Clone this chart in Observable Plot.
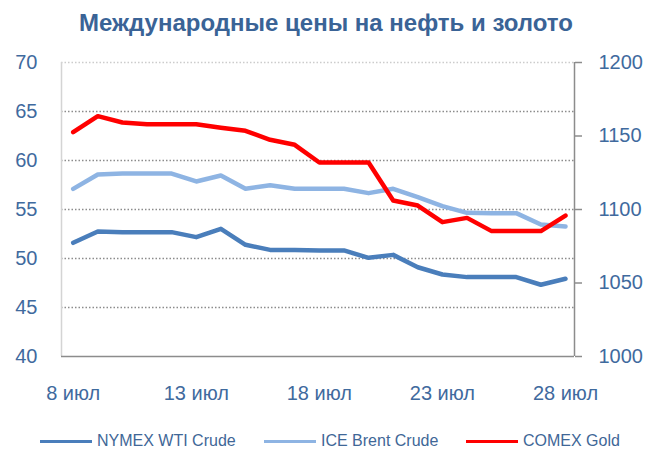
<!DOCTYPE html>
<html>
<head>
<meta charset="utf-8">
<script src="https://cdn.jsdelivr.net/npm/d3@7"></script>
<script src="https://cdn.jsdelivr.net/npm/@observablehq/plot@0.6"></script>
<style>
  html, body { margin: 0; padding: 0; background: #fff; }
  #wrap { position: relative; width: 648px; height: 451px; font-family: "Liberation Sans", Arial, sans-serif; }
  #title { position: absolute; left: 0; top: 11px; width: 652px; text-align: center;
           font-weight: bold; font-size: 24px; line-height: 24px; color: #3A6396; }
  #chart { position: absolute; left: 0; top: 50px; }
  .lg { position: absolute; top: 431px; height: 20px; display: flex; align-items: center;
        font-size: 16px; color: #3F6797; white-space: nowrap; }
  .lg span.sw { display: inline-block; width: 52px; height: 3px; margin-right: 5px; }
</style>
</head>
<body>
<div id="wrap">
  <div id="title">Международные цены на нефть и золото</div>
  <div id="chart"></div>
  <div id="legend"></div>
</div>
<script>
const days = [8, 9, 10, 11, 12, 13, 14, 15, 16, 17, 18, 19, 20, 21, 22, 23, 24, 25, 26, 27, 28];
const wti = [51.6, 52.76, 52.69, 52.69, 52.69, 52.18, 53.03, 51.4, 50.88, 50.88, 50.82, 50.82, 50.07, 50.37, 49.11, 48.37, 48.1, 48.1, 48.1, 47.32, 47.93];
const brent = [57.11, 58.57, 58.67, 58.67, 58.67, 57.86, 58.47, 57.11, 57.48, 57.11, 57.11, 57.11, 56.67, 57.11, 56.26, 55.34, 54.66, 54.63, 54.63, 53.47, 53.27];
const gold = [1152.6, 1163.5, 1159.2, 1158, 1158, 1158, 1155.6, 1153.5, 1147.4, 1144, 1132, 1132, 1132, 1106.1, 1102.7, 1091.4, 1094.3, 1085.3, 1085.3, 1085.3, 1095.9];
const xTicks = [8, 13, 18, 23, 28];
const leftTicks = [40, 45, 50, 55, 60, 65, 70];
const rightTicks = [1000, 1050, 1100, 1150, 1200];
const seriesNames = ["NYMEX WTI Crude", "ICE Brent Crude", "COMEX Gold"];
const seriesColors = ["#4A7EBB", "#8EB4E3", "#FF0000"];

const leftDomain = [40, 70];
const rightDomain = [1000, 1200];
const toLeft = d3.scaleLinear(rightDomain, leftDomain);
const xDomain = [7.525, 28.366];
const labelColor = "#3F6A9E";

const plot = Plot.plot({
  width: 648,
  height: 372,
  marginTop: 12,
  marginBottom: 66,
  marginLeft: 61,
  marginRight: 74,
  style: { fontFamily: "'Liberation Sans', Arial, sans-serif", background: "white" },
  x: { domain: xDomain, axis: null },
  y: { domain: leftDomain, axis: null },
  marks: [
    Plot.ruleY([45, 50, 55, 60, 65], { stroke: "#8c8c8c", strokeWidth: 1.3, strokeDasharray: "1.5,2" }),
    Plot.ruleY([70], { stroke: "#cccccc", strokeWidth: 1.3, strokeDasharray: "1.5,2" }),
    Plot.ruleX([xDomain[0]], { stroke: "#d4d4d4", strokeWidth: 1.5 }),
    Plot.ruleY([40], { stroke: "#8c8c8c", strokeWidth: 1.5 }),
    Plot.ruleX([xDomain[1]], { stroke: "#8c8c8c", strokeWidth: 1.5 }),
    Plot.axisY({ anchor: "left", ticks: leftTicks, tickSize: 0, tickPadding: 24, fontSize: 20,
      fill: labelColor, stroke: "none", label: null }),
    Plot.axisY({ anchor: "right", ticks: rightTicks.map(toLeft), tickFormat: d => String(Math.round(toLeft.invert(d))),
      tickSize: 7, tickPadding: 17, fontSize: 20, fill: labelColor, stroke: "#8c8c8c", strokeWidth: 1.5, label: null }),
    Plot.axisX({ anchor: "bottom", ticks: xTicks, tickFormat: d => `${d} июл`, tickSize: 0, tickPadding: 29,
      fontSize: 20, fill: labelColor, stroke: "none", label: null }),
    Plot.line(wti, { x: days, y: d => d, stroke: seriesColors[0], strokeWidth: 4.5, strokeLinejoin: "round", strokeLinecap: "round" }),
    Plot.line(brent, { x: days, y: d => d, stroke: seriesColors[1], strokeWidth: 4.5, strokeLinejoin: "round", strokeLinecap: "round" }),
    Plot.line(gold, { x: days, y: d => toLeft(d), stroke: seriesColors[2], strokeWidth: 4.5, strokeLinejoin: "round", strokeLinecap: "round" })
  ]
});
document.getElementById("chart").appendChild(plot);

const legendX = [40, 264, 466];
const legend = document.getElementById("legend");
seriesNames.forEach((name, i) => {
  const item = document.createElement("div");
  item.className = "lg";
  item.style.left = legendX[i] + "px";
  const sw = document.createElement("span");
  sw.className = "sw";
  sw.style.background = seriesColors[i];
  item.appendChild(sw);
  item.appendChild(document.createTextNode(name));
  legend.appendChild(item);
});
</script>
</body>
</html>
